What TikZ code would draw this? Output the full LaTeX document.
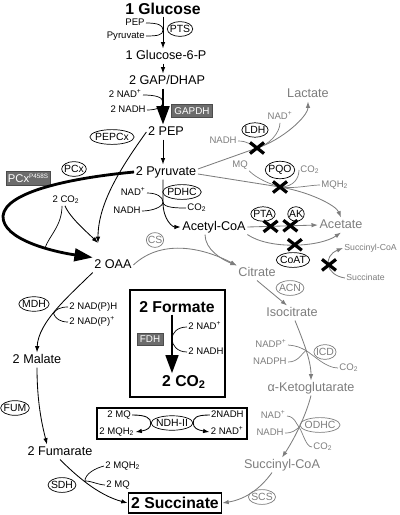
\documentclass[tikz,border=0pt]{standalone}
\usepackage{fontspec}
\setmainfont{Liberation Sans}
\usetikzlibrary{arrows.meta,shapes.geometric,calc}

\definecolor{pathgray}{RGB}{125,125,125}
\definecolor{boxgray}{RGB}{108,108,108}

\newcommand{\cotwo}{CO\textsubscript{2}}
\newcommand{\nadox}{NAD\textsuperscript{+}}
\newcommand{\mqred}{MQH\textsubscript{2}}

\tikzset{
  met/.style={font=\fontsize{9}{10}\selectfont,inner sep=1pt,text height=6.5pt,text depth=1.8pt},
  bigmet/.style={font=\bfseries\fontsize{11.2}{13}\selectfont,inner sep=1pt,text height=8.2pt,text depth=0.3pt},
  cof/.style={font=\fontsize{6.8}{8}\selectfont,inner sep=0.8pt,text height=4.9pt,text depth=1.4pt},
  enz/.style={draw,ellipse,font=\fontsize{7.4}{8}\selectfont,inner xsep=-0.8pt,inner ysep=1.1pt,line width=0.5pt},
  enzbox/.style={draw=black!70,fill=boxgray,text=white,font=\fontsize{7}{8}\selectfont,inner xsep=2pt,inner ysep=2pt},
  minor/.style={pathgray},
  rxn/.style={line width=0.6pt,-{Latex[length=4.5pt,width=3.2pt]}},
  side/.style={line width=0.5pt},
  fat/.style={line width=2pt,-{Triangle[length=13pt,width=9pt]}},
  knockout/.pic={\draw[black,line width=2.3pt] (-7,-5.5) -- (7,5.5) (-7,5.5) -- (7,-5.5);}
}

\begin{document}
\begin{tikzpicture}[x=0.025cm,y=-0.025cm]
\useasboundingbox (0,0) rectangle (400,515);
\coordinate (axis) at (163,0);
\coordinate (faxis) at (172,0);

% metabolites
\node[bigmet] (glc) at (163,9) {1 Glucose};
\node[met] (g6p) at (166,56) {1 Glucose-6-P};
\node[met] (gap) at (167,81) {2 GAP/DHAP};
\node[met] (pep) at (166,132) {2 PEP};
\node[met] (pyr) at (166,172) {2 Pyruvate};
\node[met] (accoa) at (214,227) {Acetyl-CoA};
\node[met] (oaa) at (113,265) {2 OAA};
\node[met] (mal) at (37,360) {2 Malate};
\node[met] (fum) at (60,452) {2 Fumarate};
\node[bigmet,draw,line width=1.2pt,inner xsep=2pt,inner ysep=3pt] (suc) at (175,503) {2 Succinate};
\node[met,minor] (lac) at (308,94) {Lactate};
\node[met,minor] (ace) at (341,225) {Acetate};
\node[met,minor] (cit) at (257,273) {Citrate};
\node[met,minor] (icit) at (292,313) {Isocitrate};
\node[met,minor] (akg) at (311,388) {α-Ketoglutarate};
\node[met,minor] (succoa) at (282,465) {Succinyl-CoA};
\node[bigmet] (form) at (177,307) {2 Formate};
\node[bigmet] (co2F) at (184,381) {2 \cotwo};

% cofactors
\node[cof,anchor=east] (pepT) at (146,23) {PEP};
\node[cof,anchor=east] (pyrT) at (146,36) {Pyruvate};
\node[cof,anchor=east] (nadG) at (143,95) {2 \nadox};
\node[cof,anchor=east] (nadhG) at (147,110) {2 NADH};
\node[cof,anchor=east] (nadP) at (147,193) {\nadox};
\node[cof,anchor=east] (nadhP) at (142,211) {NADH};
\node[cof,anchor=west] (co2P) at (186,208) {\cotwo};
\node[cof] (co2C) at (66,200) {2 \cotwo};
\node[cof,minor] (nadL) at (280,117) {\nadox};
\node[cof,minor,anchor=east] (nadhL) at (238,141) {NADH};
\node[cof,minor] (mqQ) at (240,165) {MQ};
\node[cof,minor,anchor=west] (co2Q) at (299,170) {\cotwo};
\node[cof,minor,anchor=west] (mqh2Q) at (320,185) {\mqred};
\node[cof,minor,anchor=west,font=\fontsize{6.2}{7}\selectfont] (sucoaS) at (343,248) {Succinyl-CoA};
\node[cof,minor,anchor=west,font=\fontsize{6.2}{7}\selectfont] (sucS) at (345,278) {Succinate};
\node[cof,minor,anchor=east] (nadpI) at (288,345) {NADP\textsuperscript{+}};
\node[cof,minor,anchor=east] (nadphI) at (288,362) {NADPH};
\node[cof,minor,anchor=west] (co2I) at (338,368) {\cotwo};
\node[cof,minor,anchor=east] (nadO) at (287,416) {\nadox};
\node[cof,minor,anchor=east] (nadhO) at (285,433) {NADH};
\node[cof,minor,anchor=west] (co2O) at (312,447) {\cotwo};
\node[cof,anchor=west] (nadphM) at (68,307) {2 NAD(P)H};
\node[cof,anchor=west] (nadpM) at (68,322) {2 NAD(P)\textsuperscript{+}};
\node[cof,anchor=west] (mqh2S) at (104,466) {2 \mqred};
\node[cof,anchor=west] (mqS) at (105,485) {2 MQ};
\node[cof,anchor=west] (nadF) at (187,327) {2 \nadox};
\node[cof,anchor=west] (nadhF) at (187,352) {2 NADH};
\node[cof,anchor=west] (mqN) at (106,415) {2 MQ};
\node[cof,anchor=west] (mqh2N) at (98,432) {2 \mqred};
\node[cof,anchor=east] (nadhN) at (245,415) {2NADH};
\node[cof,anchor=east] (nadN) at (245,432) {2 \nadox};

% enzymes
\node[enz] (pts) at (180,29) {PTS};
\node[enz] (pepcx) at (112,137) {PEPCx};
\node[enz] (pcx) at (74,169) {PCx};
\node[enz] (pdhc) at (182,192) {PDHC};
\node[enz] (ldh) at (255,130) {LDH};
\node[enz] (pqo) at (280,170) {PQO};
\node[enz] (pta) at (263,214) {PTA};
\node[enz] (ak) at (296,214) {AK};
\node[enz] (coat) at (293,260) {CoAT};
\node[enz,minor] (cs) at (155,240) {CS};
\node[enz,minor] (acn) at (290,288) {ACN};
\node[enz,minor] (icd) at (325,352) {ICD};
\node[enz,minor] (odhc) at (320,425) {ODHC};
\node[enz,minor] (scs) at (262,497) {SCS};
\node[enz] (mdh) at (34,304) {MDH};
\node[enz] (fumE) at (15,408) {FUM};
\node[enz] (sdh) at (62,485) {SDH};
\node[enz] (ndh) at (172,423) {NDH-II};
\node[enzbox] (gapdh) at (192,111) {GAPDH};
\node[enzbox,font=\fontsize{8}{9}\selectfont,inner xsep=1.2pt] (pcxmut) at (28,178) {PCx\raisebox{3pt}{\fontsize{4.5}{5}\selectfont P458S}};
\node[enzbox] (fdh) at (150,339) {FDH};

% boxes
\draw[line width=0.9pt] (130,290) rectangle (225,397);
\draw[line width=0.9pt] (97,408) rectangle (247,439);

% glycolysis
\coordinate (ptsj) at (163,30);
\coordinate (gapj) at (163,102);
\draw[rxn] (glc.south) -- (glc.south |- g6p.north);
\draw[side] (pepT.east) .. controls +(12,0) and +(0,-5) .. (ptsj) .. controls +(0,5) and +(12,0) .. (pyrT.east);
\draw[rxn] (axis |- g6p.south) -- (axis |- gap.north);
\draw[fat] (axis |- gap.south) -- (axis |- pep.north);
\draw[side] (nadG.east) .. controls +(12,0) and +(0,-5) .. (gapj) .. controls +(0,5) and +(10,0) .. (nadhG.east);
\draw[rxn] (axis |- pep.south) -- (axis |- pyr.north);

% PDHC
\coordinate (pdhcj) at (163,202);
\draw[rxn] (axis |- pyr.south) -- (pdhcj) .. controls +(0,18) and +(-8,0) .. (accoa.west);
\draw[side] (nadP.east) .. controls +(10,0) and +(0,-5) .. (pdhcj) .. controls +(0,5) and +(10,0) .. (nadhP.east);
\draw[side] (pdhcj) .. controls +(0,6) and +(-8,0) .. (co2P.west);

% anaplerosis
\coordinate (oaain) at (98,243);
\coordinate (pcxturn) at (3,216);
\draw[rxn] (pep.west) .. controls +(-25,35) and +(0,-40) .. (oaain);
\draw[fat] (pyr.west) .. controls (70,178) and (5,192) .. (pcxturn) .. controls (2,240) and (55,252) .. (oaa.north west);
\coordinate (pcxj) at (45,248);
\draw[side] ($(co2C.south)+(-4,0)$) .. controls +(0,20) and +(4,-12) .. (pcxj);
\draw[rxn] ($(co2C.south)+(-1,0)$) .. controls +(5,12) and +(-10,-10) .. (oaain);

% overflow
\draw[rxn,minor] ($(pyr.east)+(0,-3)$) -- (257,148) coordinate (ldhx) .. controls +(25,-8) and +(0,15) .. (lac.south);
\draw[side,minor] (nadhL.east) .. controls +(10,0) and +(-6,-3) .. (ldhx);
\draw[side,minor] (ldhx) .. controls +(12,-3) and +(0,10) .. (nadL.south);
\draw[rxn,minor] ($(pyr.east)+(0,2)$) -- (280,187) coordinate (pqox) .. controls +(30,5) and +(-5,-12) .. (ace.north);
\draw[side,minor] (mqQ.south east) .. controls +(8,8) and +(-10,-3) .. (pqox);
\draw[side,minor] (pqox) .. controls +(14,0) and +(0,8) .. (co2Q.west);
\draw[side,minor] (pqox) .. controls +(15,2) and +(-10,0) .. (mqh2Q.west);
\draw[rxn,minor] (accoa.east) -- (ace.west) coordinate[pos=0.33] (ptax) coordinate[pos=0.61] (akx);
\draw[rxn,minor] (accoa.south east) .. controls (270,250) and (320,247) .. (ace.south) coordinate[pos=0.5] (coatx);
\draw[rxn,minor] (sucS.west) .. controls +(-20,-3) and +(-20,8) .. (sucoaS.west) coordinate[pos=0.5] (coatxx);

% TCA branch
\draw[rxn,minor] (oaa.east) .. controls +(30,-28) and +(-30,-16) .. (cit.north west);
\draw[rxn,minor] ($(accoa.south)+(-9,0)$) .. controls +(0,15) and +(-15,-6) .. (cit.north west);
\draw[rxn,minor] (cit.south) -- ($(icit.north)+(-5,0)$);
\draw[rxn,minor] ($(icit.south)+(3,0)$) .. controls +(8,20) and +(0,-20) .. (akg.north) coordinate[pos=0.5] (icdj);
\draw[side,minor] (nadpI.east) .. controls +(10,1) and +(-6,-3) .. (icdj) .. controls +(8,5) and +(-12,0) .. (co2I.west);
\draw[side,minor] (nadphI.east) .. controls +(10,0) and +(-5,4) .. (icdj);
\draw[rxn,minor] (akg.south) .. controls +(-5,20) and +(12,-18) .. (succoa.north) coordinate[pos=0.5] (odhcj);
\draw[side,minor] (nadO.east) .. controls +(8,1) and +(-4,-5) .. (odhcj) .. controls +(4,6) and +(-6,0) .. (co2O.west);
\draw[side,minor] (nadhO.east) .. controls +(8,0) and +(-4,3) .. (odhcj);
\draw[rxn,minor] ($(succoa.south)+(-10,0)$) .. controls +(-10,14) and +(25,-4) .. (suc.east);

% reductive branch
\draw[rxn] (oaa.south west) .. controls (70,295) and (38,322) .. (mal.north) coordinate[pos=0.55] (mdhj);
\draw[side] (nadphM.west) .. controls +(-8,0) and +(2,-4) .. (mdhj) .. controls +(2,5) and +(-8,0) .. (nadpM.west);
\draw[rxn] (mal.south) .. controls +(0,35) and +(-5,-20) .. ($(fum.north)+(-13,0)$);
\draw[rxn] (fum.south) .. controls +(15,15) and +(-30,-8) .. (suc.west) coordinate[pos=0.45] (sdhj);
\draw[side] (mqh2S.west) .. controls +(-8,2) and +(0,-8) .. (sdhj) .. controls +(2,-2) and +(-6,0) .. (mqS.west);

% formate and NDH-II
\coordinate (fdhj) at (172,339);
\draw[fat] (faxis |- form.south) -- (faxis |- co2F.north);
\draw[side] (nadF.west) .. controls +(-10,0) and +(0,-6) .. (fdhj) .. controls +(0,6) and +(-10,0) .. (nadhF.west);
\draw[rxn] (mqN.east) .. controls +(14,0) and +(0,-5) .. (ndh.west) .. controls +(0,5) and +(12,-2) .. (mqh2N.east);
\draw[rxn] (nadhN.west) .. controls +(-14,0) and +(0,-5) .. (ndh.east) .. controls +(0,5) and +(-12,-2) .. (nadN.west);

% deletions
\path (ldhx) pic{knockout};
\path (pqox) pic{knockout};
\path (ptax) pic{knockout};
\path (akx) pic{knockout};
\path (coatx) pic{knockout};
\path (coatxx) pic{knockout};

\end{tikzpicture}
\end{document}
